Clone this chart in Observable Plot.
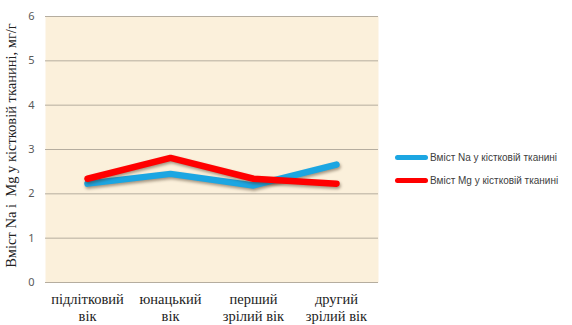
<!DOCTYPE html>
<html>
<head>
<meta charset="utf-8">
<script src="https://cdn.jsdelivr.net/npm/d3@7"></script>
<script src="https://cdn.jsdelivr.net/npm/@observablehq/plot@0.6"></script>
<style>
  html, body { margin: 0; padding: 0; background: #fff; }
  #wrap { position: relative; width: 572px; height: 325px; }
  #legend { position: absolute; left: 395px; top: 146px; font-family: "Liberation Sans", Arial, sans-serif; font-size: 10px; color: #404040; }
  #legend .row { display: flex; align-items: center; height: 23px; }
  #legend .sw { width: 33px; height: 5px; border-radius: 3px; margin-right: 2px; }
</style>
</head>
<body>
<div id="wrap"></div>
<script>
// Age groups (x categories) and their axis labels
const ages = ["teen", "youth", "adult1", "adult2"];
const ageLabels = ["підлітковий\nвік", "юнацький\nвік", "перший\nзрілий вік", "другий\nзрілий вік"];

// Content in bone tissue, mg/g
const naValues = [2.23, 2.45, 2.19, 2.66];
const mgValues = [2.34, 2.81, 2.34, 2.23];

const seriesNames = ["Вміст Na у кістковій тканині", "Вміст Mg у кістковій тканині"];
const seriesColors = ["#1ca6e2", "#ff0000"];

const yTicks = [0, 1, 2, 3, 4, 5, 6];

const serif = "Liberation Serif";

const rows = [
  ...ages.map((a, i) => ({age: a, value: naValues[i], series: seriesNames[0]})),
  ...ages.map((a, i) => ({age: a, value: mgValues[i], series: seriesNames[1]}))
];

const chart = Plot.plot({
  width: 572,
  height: 325,
  marginLeft: 45,
  marginRight: 194,
  marginTop: 16,
  marginBottom: 43,
  style: {background: "transparent", overflow: "visible"},
  x: {type: "point", domain: ages, padding: 0.5, label: null, axis: null},
  y: {domain: [0, 6], label: null},
  color: {domain: seriesNames, range: seriesColors},
  marks: [
    Plot.frame({fill: "#fbf0db", stroke: null}),
    Plot.ruleY(yTicks, {stroke: "#b5ad9f", strokeWidth: 1}),
    Plot.axisY({
      ticks: yTicks, tickSize: 0, tickPadding: 11, tickFormat: "d",
      fontSize: 11, fill: "#595959",
      label: null
    }),
    // category labels below the frame
    Plot.text(ages, {
      x: (d) => d, text: (d, i) => ageLabels[i],
      frameAnchor: "bottom", lineAnchor: "top", dy: 10,
      fontSize: 14.5, fontFamily: serif, fill: "#222", lineHeight: 1.15
    }),
    Plot.text(["Вміст Na і  Mg у кістковій тканині, мг/г"], {
      frameAnchor: "left", textAnchor: "middle", dx: -34, dy: -4, rotate: -90,
      fontSize: 14.5, fontFamily: serif, fill: "#222"
    }),
    Plot.line(rows, {
      x: "age", y: "value", z: "series", stroke: "series",
      strokeWidth: 6.5, strokeLinejoin: "round", strokeLinecap: "round",
      className: "series-line"
    })
  ]
});

d3.select(chart).selectAll(".series-line path")
  .style("filter", "drop-shadow(1px 2px 1.5px rgba(60,40,20,0.45))");

const wrap = document.getElementById("wrap");
wrap.appendChild(chart);

// Legend
const legend = document.createElement("div");
legend.id = "legend";
seriesNames.forEach((name, i) => {
  const row = document.createElement("div");
  row.className = "row";
  const sw = document.createElement("span");
  sw.className = "sw";
  sw.style.background = seriesColors[i];
  const label = document.createElement("span");
  label.textContent = name;
  row.appendChild(sw);
  row.appendChild(label);
  legend.appendChild(row);
});
wrap.appendChild(legend);
</script>
</body>
</html>
